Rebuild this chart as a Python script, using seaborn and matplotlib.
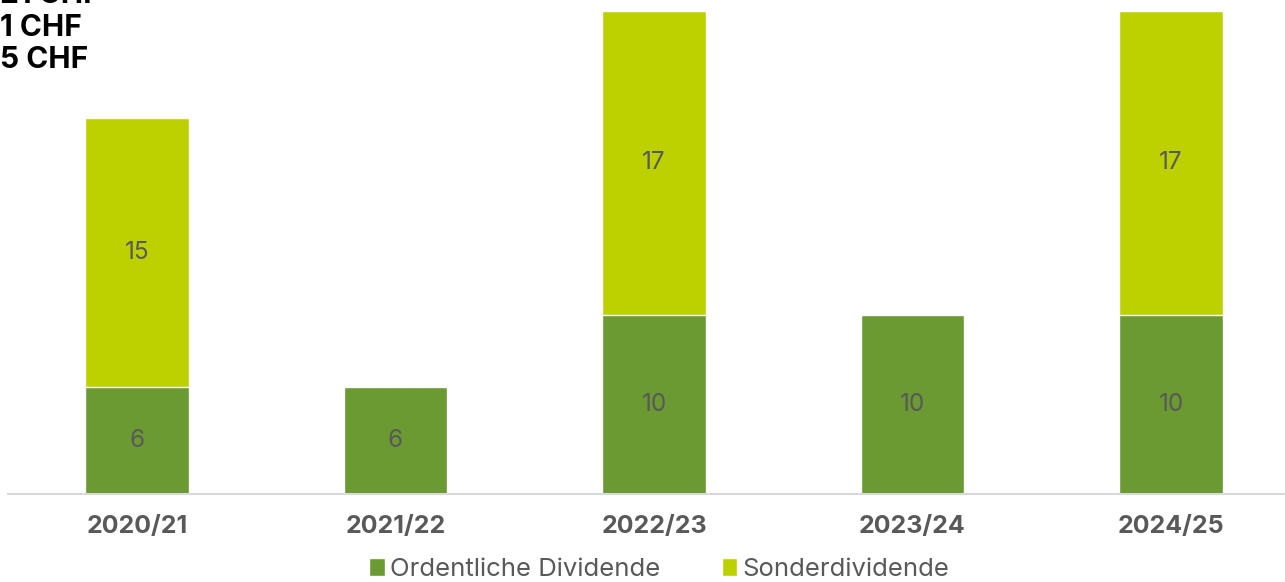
import matplotlib
matplotlib.use("Agg")
import matplotlib.pyplot as plt
from matplotlib.patches import Patch
import seaborn as sns
import pandas as pd

# Daten
years = ["2020/21", "2021/22", "2022/23", "2023/24", "2024/25"]
ordentlich = [6, 6, 10, 10, 10]
sonder = [15, 0, 17, 0, 17]
header_lines = ["21 CHF", "1 CHF", "5 CHF"]

DARK = "#6A9A31"
LIGHT = "#BDD000"
GRAY = "#595959"

sns.set_theme(style="white")
plt.rcParams['font.family'] = ['Inter', 'DejaVu Sans']

df = pd.DataFrame({"year": years, "ordentlich": ordentlich, "sonder": sonder})
df["total"] = df["ordentlich"] + df["sonder"]

fig = plt.figure(figsize=(12.85, 5.82), dpi=100)
ax = fig.add_axes([8 / 1285, 1 - 494 / 582, 1 - 8 / 1285, 494 / 582])

# gestapelt: Gesamt hinten, ordentlich davor
sns.barplot(data=df, x="year", y="total", color=LIGHT, width=0.40, saturation=1, ax=ax)
sns.barplot(data=df, x="year", y="ordentlich", color=DARK, width=0.40, saturation=1, ax=ax)

for i, (o, s) in enumerate(zip(ordentlich, sonder)):
    ax.text(i, o / 2, str(o), ha="center", va="center", fontsize=17.5, color=GRAY)
    if s > 0:
        ax.text(i, o + s / 2, str(s), ha="center", va="center", fontsize=17.5, color=GRAY)

ax.set_xlim(-0.499, 4.441)
ax.set_ylim(0, 494 / 17.9)
ax.set_xlabel("")
ax.set_ylabel("")
ax.set_yticks([])
for side in ["top", "right", "left"]:
    ax.spines[side].set_visible(False)
ax.spines["bottom"].set_color("#D9D9D9")
ax.spines["bottom"].set_linewidth(1.5)
ax.tick_params(axis="x", length=0, pad=15)
for lbl in ax.get_xticklabels():
    lbl.set_fontsize(18)
    lbl.set_fontweight("bold")
    lbl.set_color(GRAY)

# abgeschnittener Kopftext oben links
for k, line in enumerate(header_lines):
    fig.text(0.0, 1 - (-5 + 32.5 * k) / 582, line, ha="left", va="center",
             fontsize=21.5, fontweight="bold", color="black")

handles = [Patch(facecolor=DARK, label="Ordentliche Dividende"),
           Patch(facecolor=LIGHT, label="Sonderdividende")]
fig.legend(handles=handles, loc="lower center", bbox_to_anchor=(0.513, -0.038), ncol=2,
           frameon=False, fontsize=18.5, handlelength=0.6, handleheight=0.75,
           handletextpad=0.2, columnspacing=2.4, labelcolor=GRAY)

fig.savefig("out.png", dpi=100)
